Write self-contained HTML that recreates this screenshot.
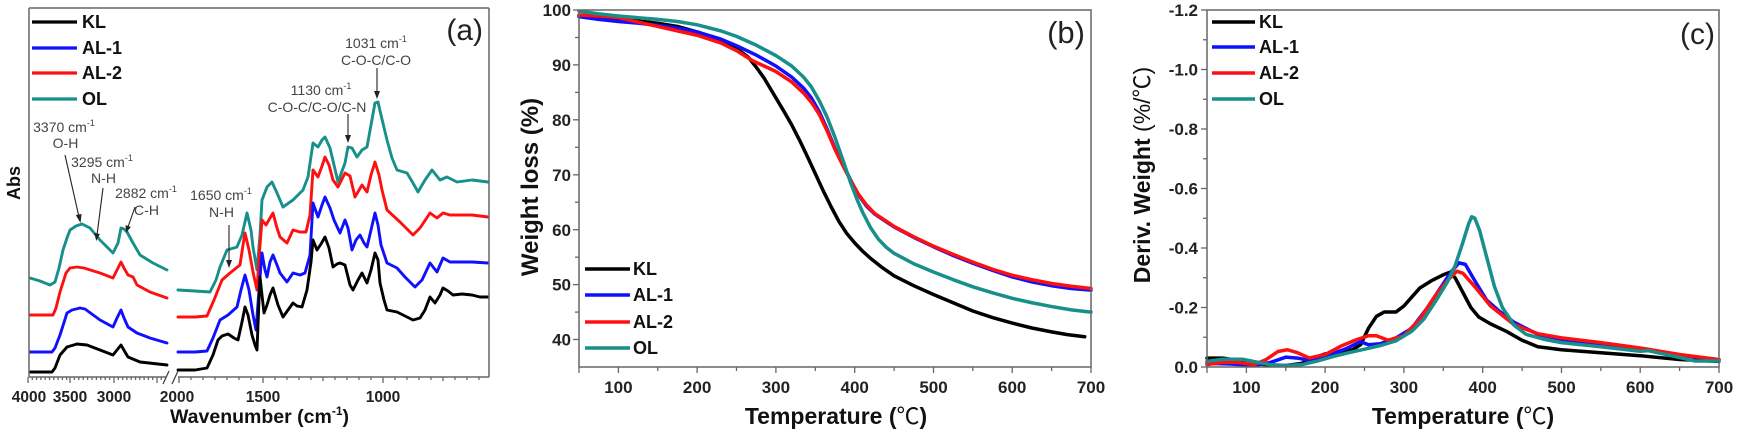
<!DOCTYPE html>
<html><head><meta charset="utf-8">
<style>
html,body{margin:0;padding:0;background:#fff;}
svg{display:block;}
text{font-family:"Liberation Sans",Arial,"Noto Sans CJK SC",sans-serif;}
.tk{font-weight:bold;font-size:17px;fill:#222;}
.tka{font-weight:bold;font-size:15.5px;fill:#222;}
.lg{font-weight:bold;font-size:18px;fill:#111;}
.an{font-size:14px;fill:#444;}
.ttl{font-weight:bold;fill:#111;}
.fr{stroke:#666;stroke-width:1.5;fill:none;}
.tick{stroke:#666;stroke-width:1.3;}
.c{fill:none;stroke-linejoin:round;stroke-linecap:round;}
</style></head>
<body>
<svg width="1738" height="437" viewBox="0 0 1738 437" xmlns="http://www.w3.org/2000/svg">
<rect width="1738" height="437" fill="#fff"/>

<!-- ================= PANEL (a) ================= -->
<g>
<g class="c" stroke-width="2.9">
<polyline stroke="#178f8a" points="30,278 40,281 50,285 55,282 59,268 63,250 67,238 70,230 76,226 82,224 90,228 100,240 107,247 113,253 118,243 121,228 124,229 127,232 133,243 140,255 153,263 167,270"/>
<polyline stroke="#178f8a" points="178,290 195,291 210,292 216,280 220,267 227,250 237,247 242,235 247,213 251,230 253,247 257,270 260,235 262,200 267,187 272,182 277,193 283,207 293,200 303,190 308,177 313,143 318,147 322,140 325,137 330,148 334,165 338,182 345,163 348,147 352,148 357,157 362,150 367,147 371,125 375,103 378,102 381,115 387,140 392,158 397,170 407,173 413,183 418,192 425,180 432,170 440,180 447,177 457,182 472,180 488,182"/>
<polyline stroke="#ff1010" points="30,315 53,315 56,308 60,292 66,273 70,268 77,267 84,268 100,273 113,278 117,270 121,262 124,268 128,275 133,277 137,285 150,292 167,298"/>
<polyline stroke="#ff1010" points="178,317 195,317 207,316 214,300 222,280 230,273 240,265 243,245 245,233 249,250 253,272 257,290 260,245 262,220 266,225 270,218 273,213 277,228 280,237 287,243 293,230 300,232 306,232 310,215 313,170 318,177 322,166 325,157 329,165 333,180 338,187 345,173 350,176 355,197 362,185 367,192 371,175 375,162 379,175 382,190 387,210 400,222 413,235 420,228 430,213 437,218 443,213 450,215 472,215 488,217"/>
<polyline stroke="#1010ff" points="30,352 52,352 55,348 60,335 67,313 72,310 80,308 85,309 100,320 113,327 117,318 121,310 124,318 128,327 137,333 150,338 167,343"/>
<polyline stroke="#1010ff" points="178,352 195,352 207,351 213,338 220,320 228,315 237,307 241,290 245,275 249,290 253,315 256,330 259,290 262,253 265,270 267,277 270,262 273,255 277,265 280,273 287,282 293,273 300,275 305,273 310,255 313,203 318,217 322,205 325,197 330,208 334,220 340,233 345,220 348,228 352,250 356,240 360,235 364,243 367,247 371,230 375,213 378,225 381,245 387,263 397,268 405,277 415,287 422,280 430,263 437,272 443,258 450,262 460,262 472,262 488,263"/>
<polyline stroke="#000" points="30,372 52,372 55,368 60,355 67,347 77,344 87,345 100,350 113,355 117,350 121,345 125,352 128,357 140,362 167,365"/>
<polyline stroke="#000" points="178,370 195,370 207,368 213,355 218,340 222,336 228,334 234,338 238,340 242,322 245,307 248,315 252,335 255,345 257,350 259,300 260,277 262,295 264,313 267,305 270,295 273,288 278,305 283,317 288,310 293,303 297,306 302,307 307,290 311,262 313,240 317,250 321,244 325,237 329,248 333,267 337,264 340,263 345,265 350,285 353,290 358,280 362,273 367,283 371,270 375,253 378,260 380,283 384,300 387,310 397,312 405,316 413,320 420,318 425,310 430,297 435,303 440,295 443,288 448,291 453,295 462,294 472,295 480,297 488,297"/>
</g>

<line class="fr" x1="29" y1="8" x2="489" y2="8"/>
<line class="fr" x1="29" y1="8" x2="29" y2="377"/>
<line class="fr" x1="489" y1="8" x2="489" y2="377"/>
<line class="fr" x1="29" y1="377" x2="166" y2="377"/>
<line class="fr" x1="178" y1="377" x2="489" y2="377"/>
<line stroke="#444" stroke-width="1.3" x1="163" y1="384" x2="169" y2="371"/>
<line stroke="#444" stroke-width="1.3" x1="172" y1="384" x2="178" y2="371"/>

<g class="tick">
<line x1="28" y1="377" x2="28" y2="383"/><line x1="70" y1="377" x2="70" y2="383"/><line x1="114" y1="377" x2="114" y2="383"/><line x1="157" y1="377" x2="157" y2="383"/>
<line x1="32.3" y1="377" x2="32.3" y2="380"/><line x1="36.6" y1="377" x2="36.6" y2="380"/><line x1="40.9" y1="377" x2="40.9" y2="380"/><line x1="45.2" y1="377" x2="45.2" y2="380"/><line x1="49.5" y1="377" x2="49.5" y2="380"/><line x1="53.8" y1="377" x2="53.8" y2="380"/><line x1="58.1" y1="377" x2="58.1" y2="380"/><line x1="62.4" y1="377" x2="62.4" y2="380"/><line x1="66.7" y1="377" x2="66.7" y2="380"/>
<line x1="74.4" y1="377" x2="74.4" y2="380"/><line x1="78.8" y1="377" x2="78.8" y2="380"/><line x1="83.2" y1="377" x2="83.2" y2="380"/><line x1="87.6" y1="377" x2="87.6" y2="380"/><line x1="92" y1="377" x2="92" y2="380"/><line x1="96.4" y1="377" x2="96.4" y2="380"/><line x1="100.8" y1="377" x2="100.8" y2="380"/><line x1="105.2" y1="377" x2="105.2" y2="380"/><line x1="109.6" y1="377" x2="109.6" y2="380"/>
<line x1="118.3" y1="377" x2="118.3" y2="380"/><line x1="122.6" y1="377" x2="122.6" y2="380"/><line x1="126.9" y1="377" x2="126.9" y2="380"/><line x1="131.2" y1="377" x2="131.2" y2="380"/><line x1="135.5" y1="377" x2="135.5" y2="380"/><line x1="139.8" y1="377" x2="139.8" y2="380"/><line x1="144.1" y1="377" x2="144.1" y2="380"/><line x1="148.4" y1="377" x2="148.4" y2="380"/><line x1="152.7" y1="377" x2="152.7" y2="380"/><line x1="161.3" y1="377" x2="161.3" y2="380"/>
<line x1="179" y1="377" x2="179" y2="383"/><line x1="263" y1="377" x2="263" y2="383"/><line x1="383" y1="377" x2="383" y2="383"/>
<line x1="191" y1="377" x2="191" y2="380"/><line x1="203" y1="377" x2="203" y2="380"/><line x1="215" y1="377" x2="215" y2="380"/><line x1="227" y1="377" x2="227" y2="380"/><line x1="239" y1="377" x2="239" y2="380"/><line x1="251" y1="377" x2="251" y2="380"/>
<line x1="275" y1="377" x2="275" y2="380"/><line x1="287" y1="377" x2="287" y2="380"/><line x1="299" y1="377" x2="299" y2="380"/><line x1="311" y1="377" x2="311" y2="380"/><line x1="323" y1="377" x2="323" y2="381"/><line x1="335" y1="377" x2="335" y2="380"/><line x1="347" y1="377" x2="347" y2="380"/><line x1="359" y1="377" x2="359" y2="380"/><line x1="371" y1="377" x2="371" y2="380"/>
<line x1="395" y1="377" x2="395" y2="380"/><line x1="407" y1="377" x2="407" y2="380"/><line x1="419" y1="377" x2="419" y2="380"/><line x1="431" y1="377" x2="431" y2="380"/><line x1="443" y1="377" x2="443" y2="381"/><line x1="455" y1="377" x2="455" y2="380"/><line x1="467" y1="377" x2="467" y2="380"/><line x1="479" y1="377" x2="479" y2="380"/>
</g>
<g class="tka" text-anchor="middle">
<text x="29" y="402">4000</text><text x="70" y="402">3500</text><text x="114" y="402">3000</text><text x="177" y="402">2000</text><text x="263" y="402">1500</text><text x="383" y="402">1000</text>
</g>
<text class="ttl" x="170" y="423" font-size="19.5">Wavenumber (cm<tspan font-size="12" dy="-8">-1</tspan><tspan dy="8">)</tspan></text>
<text class="ttl" font-size="18" text-anchor="middle" transform="translate(20,183) rotate(-90)">Abs</text>

<g stroke-width="3.2">
<line x1="32" y1="22" x2="77" y2="22" stroke="#000"/>
<line x1="32" y1="48" x2="77" y2="48" stroke="#1010ff"/>
<line x1="32" y1="73" x2="77" y2="73" stroke="#ff1010"/>
<line x1="32" y1="99" x2="77" y2="99" stroke="#178f8a"/>
</g>
<text class="lg" x="82" y="28">KL</text>
<text class="lg" x="82" y="54">AL-1</text>
<text class="lg" x="82" y="79">AL-2</text>
<text class="lg" x="82" y="105">OL</text>
<text x="483" y="40" font-size="30" text-anchor="end" fill="#222">(a)</text>

<g class="an" text-anchor="middle">
<text x="64" y="132">3370 cm<tspan font-size="9" dy="-6">-1</tspan></text>
<text x="65.5" y="148">O-H</text>
<text x="102" y="167">3295 cm<tspan font-size="9" dy="-6">-1</tspan></text>
<text x="103.5" y="183">N-H</text>
<text x="146" y="198">2882 cm<tspan font-size="9" dy="-6">-1</tspan></text>
<text x="146.5" y="215">C-H</text>
<text x="221" y="200">1650 cm<tspan font-size="9" dy="-6">-1</tspan></text>
<text x="221.5" y="217">N-H</text>
<text x="321" y="95">1130 cm<tspan font-size="9" dy="-6">-1</tspan></text>
<text x="317" y="112">C-O-C/C-O/C-N</text>
<text x="376" y="48">1031 cm<tspan font-size="9" dy="-6">-1</tspan></text>
<text x="376" y="65">C-O-C/C-O</text>
</g>
<g stroke="#222" stroke-width="1.1">
<line x1="65" y1="155" x2="79" y2="217"/>
<line x1="103" y1="188" x2="97" y2="235"/>
<line x1="135" y1="207" x2="128" y2="227"/>
<line x1="229" y1="225" x2="229" y2="261"/>
<line x1="348" y1="114" x2="348" y2="137"/>
<line x1="377" y1="68" x2="377" y2="93"/>
</g>
<g fill="#222">
<polygon points="80.5,223 75.8,215 81.6,214"/>
<polygon points="96.3,241 94.2,233 99.8,234"/>
<polygon points="126,233 125.6,225 130.8,227"/>
<polygon points="229,268 226,260 232,260"/>
<polygon points="348,143 345,135 351,135"/>
<polygon points="377,99 374,91 380,91"/>
</g>
</g>

<!-- ================= PANEL (b) ================= -->
<g>
<g transform="matrix(0.78769 0 0 -5.4923 539.6 559.23)" class="c">
<polyline vector-effect="non-scaling-stroke" stroke-width="3.5" stroke="#000" points="50,99.0 75,98.6 100,98.3 125,98.0 150,97.6 175,97.0 200,96.0 225,94.8 250,93.0 265,91.4 275,89.6 285,87.6 300,84.0 310,81.6 320,79.1 330,76.3 340,73.3 350,70.2 360,67.1 370,64.2 380,61.5 390,59.3 400,57.6 410,56.1 420,54.8 435,53.1 450,51.6 475,49.8 500,48.2 525,46.7 550,45.2 575,44.0 600,43.0 625,42.1 650,41.4 670,40.9 692,40.5"/>
<polyline vector-effect="non-scaling-stroke" stroke-width="3.5" stroke="#1010ff" points="50,98.8 75,98.3 100,97.9 125,97.6 150,97.2 175,96.7 200,96.0 230,94.7 250,93.5 275,91.8 300,89.8 320,87.8 335,85.8 345,84.0 355,81.5 365,78.3 375,74.8 385,71.9 395,69.0 405,66.3 415,64.3 425,62.9 450,60.5 475,58.6 500,56.9 525,55.3 550,53.9 575,52.6 600,51.4 625,50.5 650,49.8 675,49.3 700,49.0"/>
<polyline vector-effect="non-scaling-stroke" stroke-width="3.5" stroke="#ff1010" points="50,99.1 75,98.9 100,98.6 125,97.8 150,97.0 175,96.2 200,95.4 230,94.0 250,92.6 270,90.8 285,89.8 300,88.8 320,86.9 335,84.9 345,83.2 355,81.0 365,78.0 375,74.6 385,71.7 395,68.9 405,66.4 415,64.5 425,63.0 450,60.6 475,58.7 500,57.0 525,55.5 550,54.1 575,52.8 600,51.7 625,50.9 650,50.2 675,49.7 700,49.3"/>
<polyline vector-effect="non-scaling-stroke" stroke-width="3.5" stroke="#178f8a" points="50,99.8 75,99.3 100,98.9 125,98.6 150,98.3 175,97.9 200,97.3 230,96.2 250,95.2 275,93.6 300,91.7 320,89.8 335,87.8 345,86.0 355,83.5 365,80.5 375,76.8 385,72.7 395,68.5 403,65.5 410,63.2 420,60.4 430,58.3 440,56.8 450,55.7 475,53.8 500,52.3 525,50.9 550,49.6 575,48.5 600,47.5 625,46.7 650,46.0 675,45.4 700,45.0"/>
</g>
<rect class="fr" x="579" y="10" width="512" height="357"/>
<g class="tick">
<line x1="579" y1="367" x2="579" y2="373"/><line x1="618.4" y1="367" x2="618.4" y2="373"/><line x1="657.8" y1="367" x2="657.8" y2="371"/><line x1="697.1" y1="367" x2="697.1" y2="373"/><line x1="736.5" y1="367" x2="736.5" y2="371"/><line x1="775.9" y1="367" x2="775.9" y2="373"/><line x1="815.3" y1="367" x2="815.3" y2="371"/><line x1="854.7" y1="367" x2="854.7" y2="373"/><line x1="894.1" y1="367" x2="894.1" y2="371"/><line x1="933.5" y1="367" x2="933.5" y2="373"/><line x1="972.8" y1="367" x2="972.8" y2="371"/><line x1="1012.2" y1="367" x2="1012.2" y2="373"/><line x1="1051.6" y1="367" x2="1051.6" y2="371"/><line x1="1091" y1="367" x2="1091" y2="373"/>
<line x1="573" y1="10" x2="579" y2="10"/><line x1="575" y1="37.5" x2="579" y2="37.5"/><line x1="573" y1="64.9" x2="579" y2="64.9"/><line x1="575" y1="92.4" x2="579" y2="92.4"/><line x1="573" y1="119.8" x2="579" y2="119.8"/><line x1="575" y1="147.3" x2="579" y2="147.3"/><line x1="573" y1="174.8" x2="579" y2="174.8"/><line x1="575" y1="202.2" x2="579" y2="202.2"/><line x1="573" y1="229.7" x2="579" y2="229.7"/><line x1="575" y1="257.2" x2="579" y2="257.2"/><line x1="573" y1="284.6" x2="579" y2="284.6"/><line x1="575" y1="312.1" x2="579" y2="312.1"/><line x1="573" y1="339.5" x2="579" y2="339.5"/>
</g>
<g class="tk" text-anchor="middle">
<text x="618.4" y="393">100</text><text x="697.1" y="393">200</text><text x="775.9" y="393">300</text><text x="854.7" y="393">400</text><text x="933.5" y="393">500</text><text x="1012.2" y="393">600</text><text x="1091" y="393">700</text>
</g>
<g class="tk" text-anchor="end">
<text x="571" y="16">100</text><text x="571" y="71">90</text><text x="571" y="126">80</text><text x="571" y="181">70</text><text x="571" y="236">60</text><text x="571" y="290.6">50</text><text x="571" y="345.5">40</text>
</g>
<text class="ttl" font-size="24" text-anchor="middle" transform="translate(538,187) rotate(-90)">Weight loss (%)</text>
<text class="ttl" font-size="23" x="836" y="424" text-anchor="middle">Temperature (<tspan font-weight="normal">℃</tspan>)</text>
<g stroke-width="3.6">
<line x1="585" y1="269" x2="630" y2="269" stroke="#000"/>
<line x1="585" y1="295" x2="630" y2="295" stroke="#1010ff"/>
<line x1="585" y1="322" x2="630" y2="322" stroke="#ff1010"/>
<line x1="585" y1="348" x2="630" y2="348" stroke="#178f8a"/>
</g>
<g class="lg" font-size="17.5">
<text x="633" y="275">KL</text><text x="633" y="301">AL-1</text><text x="633" y="328">AL-2</text><text x="633" y="354">OL</text>
</g>
<text x="1085" y="43" font-size="31" text-anchor="end" fill="#222">(b)</text>
</g>

<!-- ================= PANEL (c) ================= -->
<g>
<g transform="matrix(0.78769 0 0 -297.5 1167.6 367)" class="c">
<polyline vector-effect="non-scaling-stroke" stroke-width="3.5" stroke="#000" points="50,0.03 70,0.03 90,0.022 110,0.012 130,0.006 150,0.005 170,0.012 185,0.03 200,0.044 220,0.05 235,0.058 245,0.075 255,0.13 265,0.17 275,0.185 290,0.185 300,0.205 310,0.235 320,0.265 335,0.29 350,0.31 358,0.318 365,0.3 375,0.25 385,0.2 395,0.168 410,0.145 430,0.12 450,0.09 470,0.068 500,0.058 550,0.048 600,0.038 650,0.025 700,0.019"/>
<polyline vector-effect="non-scaling-stroke" stroke-width="3.5" stroke="#1010ff" points="50,0.012 80,0.01 110,0.005 130,0.015 150,0.033 165,0.03 180,0.022 200,0.035 225,0.06 245,0.085 255,0.075 270,0.078 290,0.098 310,0.13 330,0.2 345,0.26 360,0.32 370,0.35 378,0.345 390,0.29 405,0.225 420,0.19 440,0.15 470,0.11 500,0.093 550,0.078 600,0.06 650,0.04 700,0.025"/>
<polyline vector-effect="non-scaling-stroke" stroke-width="3.5" stroke="#ff1010" points="50,0.008 70,0.016 90,0.015 110,0.008 125,0.025 140,0.052 152,0.058 165,0.048 180,0.03 200,0.042 220,0.07 240,0.092 255,0.105 265,0.105 280,0.09 300,0.105 320,0.16 340,0.24 355,0.29 367,0.322 375,0.315 390,0.27 410,0.205 440,0.142 470,0.112 500,0.098 550,0.082 600,0.064 650,0.042 700,0.025"/>
<polyline vector-effect="non-scaling-stroke" stroke-width="3.5" stroke="#178f8a" points="50,0.019 70,0.026 95,0.026 110,0.018 130,0.008 150,0.005 170,0.008 190,0.02 210,0.035 230,0.048 250,0.06 270,0.072 290,0.088 310,0.12 325,0.16 340,0.22 355,0.285 365,0.34 375,0.42 382,0.48 386,0.505 390,0.5 396,0.46 405,0.37 415,0.27 425,0.2 440,0.14 455,0.11 480,0.092 500,0.082 550,0.068 600,0.053 610,0.055 650,0.032 670,0.02 700,0.02"/>
</g>
<rect class="fr" x="1207" y="10" width="512" height="357"/>
<g class="tick">
<line x1="1207" y1="367" x2="1207" y2="373"/><line x1="1246.4" y1="367" x2="1246.4" y2="373"/><line x1="1285.8" y1="367" x2="1285.8" y2="371"/><line x1="1325.1" y1="367" x2="1325.1" y2="373"/><line x1="1364.5" y1="367" x2="1364.5" y2="371"/><line x1="1403.9" y1="367" x2="1403.9" y2="373"/><line x1="1443.3" y1="367" x2="1443.3" y2="371"/><line x1="1482.7" y1="367" x2="1482.7" y2="373"/><line x1="1522.1" y1="367" x2="1522.1" y2="371"/><line x1="1561.5" y1="367" x2="1561.5" y2="373"/><line x1="1600.8" y1="367" x2="1600.8" y2="371"/><line x1="1640.2" y1="367" x2="1640.2" y2="373"/><line x1="1679.6" y1="367" x2="1679.6" y2="371"/><line x1="1719" y1="367" x2="1719" y2="373"/>
<line x1="1201" y1="10" x2="1207" y2="10"/><line x1="1203" y1="39.75" x2="1207" y2="39.75"/><line x1="1201" y1="69.5" x2="1207" y2="69.5"/><line x1="1203" y1="99.25" x2="1207" y2="99.25"/><line x1="1201" y1="129" x2="1207" y2="129"/><line x1="1203" y1="158.75" x2="1207" y2="158.75"/><line x1="1201" y1="188.5" x2="1207" y2="188.5"/><line x1="1203" y1="218.25" x2="1207" y2="218.25"/><line x1="1201" y1="248" x2="1207" y2="248"/><line x1="1203" y1="277.75" x2="1207" y2="277.75"/><line x1="1201" y1="307.5" x2="1207" y2="307.5"/><line x1="1203" y1="337.25" x2="1207" y2="337.25"/><line x1="1201" y1="367" x2="1207" y2="367"/>
</g>
<g class="tk" text-anchor="middle">
<text x="1246.4" y="393">100</text><text x="1325.1" y="393">200</text><text x="1403.9" y="393">300</text><text x="1482.7" y="393">400</text><text x="1561.5" y="393">500</text><text x="1640.2" y="393">600</text><text x="1719" y="393">700</text>
</g>
<g class="tk" text-anchor="end">
<text x="1198" y="16">-1.2</text><text x="1198" y="75.5">-1.0</text><text x="1198" y="135">-0.8</text><text x="1198" y="194.5">-0.6</text><text x="1198" y="254">-0.4</text><text x="1198" y="313.5">-0.2</text><text x="1198" y="373">0.0</text>
</g>
<text class="ttl" font-size="23" text-anchor="middle" transform="translate(1150,175) rotate(-90)">Deriv. Weight <tspan font-weight="normal">(%/℃)</tspan></text>
<text class="ttl" font-size="23" x="1463" y="424" text-anchor="middle">Temperature (<tspan font-weight="normal">℃</tspan>)</text>
<g stroke-width="3.6">
<line x1="1212" y1="22" x2="1255" y2="22" stroke="#000"/>
<line x1="1212" y1="47" x2="1255" y2="47" stroke="#1010ff"/>
<line x1="1212" y1="73" x2="1255" y2="73" stroke="#ff1010"/>
<line x1="1212" y1="99" x2="1255" y2="99" stroke="#178f8a"/>
</g>
<g class="lg" font-size="17.5">
<text x="1259" y="28">KL</text><text x="1259" y="53">AL-1</text><text x="1259" y="79">AL-2</text><text x="1259" y="105">OL</text>
</g>
<text x="1715" y="44" font-size="30" text-anchor="end" fill="#222">(c)</text>
</g>
</svg>
</body></html>
